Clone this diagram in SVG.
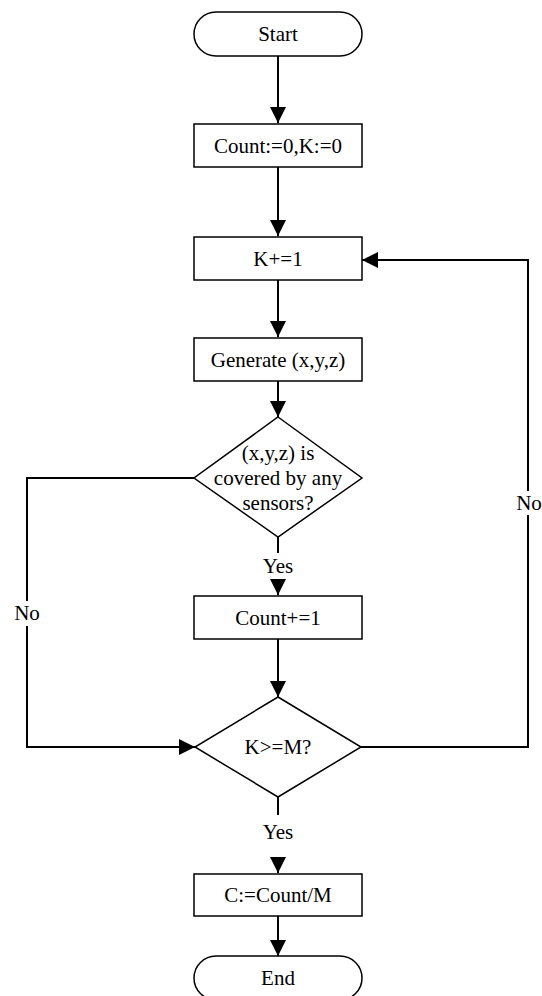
<svg xmlns="http://www.w3.org/2000/svg" width="542" height="996" viewBox="0 0 542 996">
<style>
.shape{fill:#fff;stroke:#000;stroke-width:1.5}
.t{font-family:"Liberation Serif","Times New Roman",serif;font-size:21px;fill:#000;text-anchor:middle;dominant-baseline:central}
.c{fill:none;stroke:#000;stroke-width:2}
</style>
<defs>
<marker id="ah" markerUnits="userSpaceOnUse" markerWidth="16" markerHeight="16" refX="16" refY="8" orient="auto">
<path d="M0,0 L16,8 L0,16 z" fill="#000"/>
</marker>
</defs>
<rect width="542" height="996" fill="#fff"/>
<g id="connectors">
<path class="c" d="M278 56 V123" marker-end="url(#ah)"/>
<path class="c" d="M278 167 V236" marker-end="url(#ah)"/>
<path class="c" d="M278 280 V337" marker-end="url(#ah)"/>
<path class="c" d="M278 381 V417" marker-end="url(#ah)"/>
<path class="c" d="M278 537 V553"/>
<path class="c" d="M278 579 V595" marker-end="url(#ah)"/>
<path class="c" d="M278 639 V697" marker-end="url(#ah)"/>
<path class="c" d="M195 478 H27 V601"/>
<path class="c" d="M27 626 V747 H195" marker-end="url(#ah)"/>
<path class="c" d="M361 747 H528 V515"/>
<path class="c" d="M528 491 V260 H362" marker-end="url(#ah)"/>
<path class="c" d="M278 797 V815"/>
<path class="c" d="M278 857 V873" marker-end="url(#ah)"/>
<path class="c" d="M278 916 V956" marker-end="url(#ah)"/>
<text class="t" x="278" y="566">Yes</text>
<text class="t" x="27" y="613">No</text>
<text class="t" x="529" y="503">No</text>
<text class="t" x="278" y="832">Yes</text>
</g>
<g id="start">
<rect class="shape" x="194" y="12" width="168" height="44" rx="22" ry="22"/>
<text class="t" x="278" y="34">Start</text>
</g>
<g id="init">
<rect class="shape" x="194" y="124" width="168" height="43"/>
<text class="t" x="278" y="146">Count:=0,K:=0</text>
</g>
<g id="incK">
<rect class="shape" x="194" y="237" width="168" height="43"/>
<text class="t" x="278" y="259">K+=1</text>
</g>
<g id="generate">
<rect class="shape" x="194" y="338" width="168" height="43"/>
<text class="t" x="278" y="360">Generate (x,y,z)</text>
</g>
<g id="covered">
<polygon class="shape" points="278,417 362,478 278,537 194,478"/>
<text class="t" x="278" y="453">(x,y,z) is</text>
<text class="t" x="278" y="478">covered by any</text>
<text class="t" x="278" y="503">sensors?</text>
</g>
<g id="count">
<rect class="shape" x="194" y="596" width="168" height="43"/>
<text class="t" x="278" y="618">Count+=1</text>
</g>
<g id="check">
<polygon class="shape" points="278,697 361,747 278,797 195,747"/>
<text class="t" x="278" y="747">K&gt;=M?</text>
</g>
<g id="result">
<rect class="shape" x="194" y="874" width="168" height="42"/>
<text class="t" x="278" y="895">C:=Count/M</text>
</g>
<g id="end">
<rect class="shape" x="194" y="956" width="168" height="44" rx="22" ry="22"/>
<text class="t" x="278" y="978">End</text>
</g>
</svg>
